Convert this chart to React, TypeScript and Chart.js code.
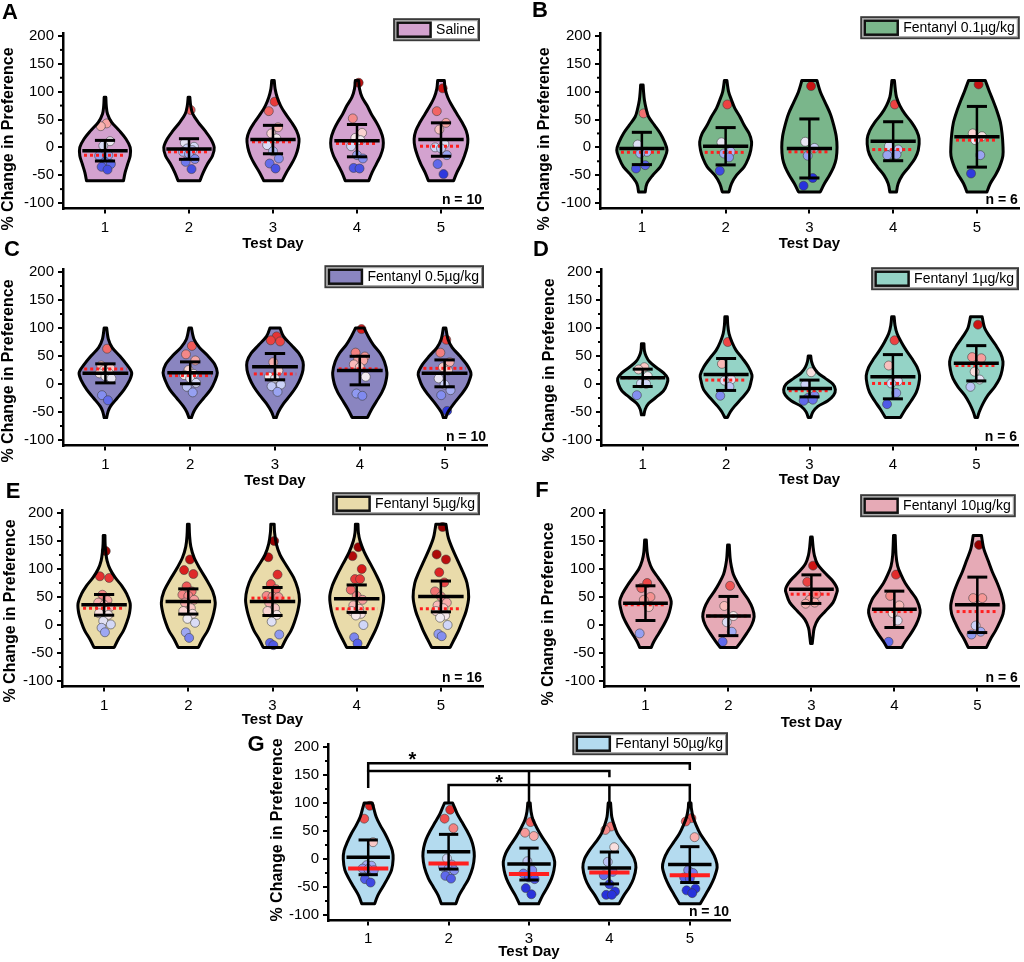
import React, { useEffect, useRef } from 'react';
import { Chart, registerables } from 'chart.js';
Chart.register(...registerables);

// ---------- shared labels ----------
const DAYS = [1, 2, 3, 4, 5];
const Y_TICKS = [-100, -50, 0, 50, 100, 150, 200];
const Y_MINOR = [-75, -25, 25, 75, 125, 175];
const X_TITLE = 'Test Day';
const Y_TITLE = '% Change in Preference';

// ---------- Panel A : Saline ----------
const PTS_A = [
  [43, 38, 11, 3, -14, -15, -26, -30, -35, -40],
  [67, 8, 1, -2, -5, -8, -12, -21, -26, -39],
  [82, 65, 36, 25, 16, 4, -7, -20, -29, -38],
  [116, 52, 26, 17, 13, 2, -14, -20, -37, -38],
  [106, 65, 44, 32, 6, 0, -2, -14, -30, -48],
];
const MEAN_A = [-6, -3, 14, 12, 14];
const SD_A = [18.5, 18.5, 25.5, 29, 30];
const MEDIAN_A = [-14, -8, 10, 7, 2];
const VIOLIN_A = [
  [[-60, .22], [-45, .24], [-30, .27], [-15, .30], [0, .30], [15, .25], [30, .17], [45, .08], [60, .03], [75, .015], [90, .01]],
  [[-60, .13], [-45, .17], [-30, .22], [-15, .28], [0, .30], [15, .26], [30, .19], [45, .11], [60, .045], [75, .02], [90, .01]],
  [[-60, .11], [-45, .16], [-30, .22], [-15, .27], [0, .30], [15, .31], [30, .28], [45, .22], [60, .15], [75, .09], [90, .05], [105, .025], [120, .015]],
  [[-60, .14], [-45, .18], [-30, .23], [-15, .28], [0, .31], [15, .31], [30, .28], [45, .23], [60, .17], [75, .12], [90, .06], [105, .03], [120, .02]],
  [[-60, .15], [-45, .19], [-30, .24], [-15, .28], [0, .31], [15, .32], [30, .30], [45, .25], [60, .19], [75, .13], [90, .08], [105, .05], [120, .04]],
];

// ---------- Panel B : Fentanyl 0.1 ----------
const PTS_B = [
  [61, 5, -8, -11, -32, -38],
  [77, 9, -8, -11, -18, -42],
  [110, 10, -1, -15, -55, -69],
  [77, 2, -4, -12, -13, -14],
  [113, 25, 20, 13, -14, -47],
];
const MEAN_B = [-2, 2, -2, 11, 19];
const SD_B = [29, 33.5, 53, 35, 54.5];
const MEDIAN_B = [-9, -9, -8, -4, 13];
const VIOLIN_B = [
  [[-80, .04], [-65, .06], [-50, .13], [-35, .22], [-20, .27], [-5, .30], [10, .27], [25, .22], [40, .15], [55, .08], [70, .05], [85, .03], [100, .02], [112, .015]],
  [[-80, .04], [-65, .07], [-50, .13], [-35, .22], [-20, .27], [-5, .30], [10, .31], [25, .28], [40, .22], [55, .17], [70, .11], [85, .07], [100, .035], [120, .015]],
  [[-80, .13], [-65, .18], [-50, .24], [-35, .29], [-20, .32], [0, .33], [20, .32], [40, .29], [60, .25], [80, .19], [100, .13], [120, .09]],
  [[-80, .04], [-65, .06], [-50, .11], [-35, .19], [-20, .26], [-5, .30], [15, .31], [30, .28], [45, .22], [60, .14], [75, .08], [90, .04], [105, .025], [120, .015]],
  [[-80, .12], [-65, .16], [-50, .22], [-35, .27], [-15, .31], [5, .31], [25, .30], [45, .28], [65, .24], [85, .19], [100, .15], [120, .10]],
];

// ---------- Panel C : Fentanyl 0.5 ----------
const PTS_C = [
  [63, 33, 28, 25, 20, 19, 14, 10, -20, -29],
  [68, 53, 42, 25, 18, 16, 10, 2, -5, -15],
  [85, 78, 76, 39, 24, 13, 10, -1, -4, -14],
  [98, 56, 49, 44, 42, 35, 30, 13, -17, -21],
  [79, 56, 39, 30, 24, 10, -1, -11, -20, -48],
];
const MEAN_C = [19, 20, 31, 24, 19];
const SD_C = [17, 19.5, 23.5, 25.5, 24];
const MEDIAN_C = [27, 15, 18, 27, 28];
const VIOLIN_C = [
  [[-60, .015], [-50, .03], [-40, .06], [-25, .14], [-10, .22], [5, .28], [20, .31], [35, .25], [50, .17], [65, .08], [80, .035], [100, .015]],
  [[-60, .015], [-50, .04], [-40, .08], [-25, .16], [-10, .24], [5, .29], [20, .32], [35, .29], [50, .21], [65, .11], [80, .045], [100, .015]],
  [[-60, .015], [-50, .04], [-35, .10], [-20, .18], [-5, .25], [10, .30], [25, .33], [40, .33], [55, .28], [70, .19], [85, .10], [100, .06]],
  [[-60, .09], [-45, .14], [-30, .20], [-15, .26], [0, .30], [20, .32], [40, .29], [55, .24], [70, .16], [85, .10], [100, .05]],
  [[-60, .015], [-50, .04], [-35, .11], [-20, .19], [-5, .26], [10, .30], [20, .31], [35, .26], [50, .18], [65, .09], [80, .04], [100, .015]],
];

// ---------- Panel D : Fentanyl 1 ----------
const PTS_D = [
  [30, 26, 14, 1, 0, -20],
  [75, 36, 8, 6, -5, -21],
  [21, -1, -21, -25, -28, -30],
  [78, 33, 5, 1, -16, -36],
  [106, 48, 46, 22, 8, -5],
];
const MEAN_D = [11, 17, -8, 13, 37];
const SD_D = [15.5, 28.5, 15, 39.5, 31.5];
const MEDIAN_D = [11, 7, -12, 1, 33];
const VIOLIN_D = [
  [[-55, .015], [-45, .03], [-35, .07], [-25, .15], [-12, .25], [0, .29], [10, .30], [20, .25], [30, .16], [40, .08], [50, .04], [60, .02], [72, .015]],
  [[-60, .015], [-50, .05], [-40, .10], [-25, .19], [-10, .27], [5, .30], [16, .31], [30, .27], [45, .20], [60, .12], [75, .07], [90, .035], [105, .02], [120, .015]],
  [[-60, .015], [-50, .04], [-40, .10], [-30, .22], [-20, .29], [-10, .31], [0, .28], [10, .19], [20, .10], [30, .05], [40, .025], [50, .015]],
  [[-60, .09], [-45, .15], [-30, .22], [-15, .28], [0, .31], [15, .32], [30, .29], [45, .23], [60, .16], [75, .10], [90, .05], [105, .025], [120, .015]],
  [[-60, .015], [-50, .035], [-35, .08], [-20, .14], [-5, .22], [10, .28], [25, .31], [40, .32], [55, .29], [70, .23], [85, .16], [100, .10], [120, .07]],
];

// ---------- Panel E : Fentanyl 5 ----------
const PTS_E = [
  [132, 87, 84, 54, 44, 40, 36, 32, 29, 25, 21, 18, 7, 1, -5, -13],
  [117, 98, 91, 69, 60, 54, 52, 45, 40, 30, 25, 20, 11, 4, -13, -23],
  [150, 121, 90, 73, 64, 52, 51, 50, 40, 30, 25, 18, 6, -17, -32, -36],
  [139, 123, 100, 82, 82, 63, 52, 45, 35, 29, 25, 20, 17, 0, -22, -33],
  [175, 126, 117, 94, 76, 60, 51, 40, 35, 30, 25, 17, 13, 0, -16, -20],
];
const MEAN_E = [36, 42, 42, 47, 51];
const SD_E = [18.5, 22.5, 25, 24.5, 27.5];
const MEDIAN_E = [30, 42, 48, 29, 29];
const VIOLIN_E = [
  [[-40, .12], [-25, .17], [-10, .23], [5, .27], [20, .30], [38, .31], [55, .27], [70, .21], [85, .13], [100, .07], [115, .035], [130, .02], [145, .012], [160, .01]],
  [[-40, .12], [-25, .17], [-10, .23], [5, .27], [20, .30], [40, .32], [60, .29], [80, .22], [100, .14], [120, .07], [140, .03], [160, .015], [180, .01]],
  [[-40, .11], [-25, .16], [-10, .22], [5, .26], [25, .30], [45, .32], [65, .30], [85, .25], [105, .17], [125, .09], [145, .045], [165, .025], [180, .02]],
  [[-40, .12], [-25, .17], [-10, .22], [5, .26], [25, .30], [50, .32], [70, .29], [90, .23], [110, .16], [130, .09], [150, .04], [165, .02], [180, .015]],
  [[-40, .11], [-25, .16], [-10, .21], [5, .25], [25, .30], [50, .33], [75, .31], [95, .26], [115, .20], [135, .14], [155, .09], [170, .07], [180, .06]],
];

// ---------- Panel F : Fentanyl 10 ----------
const PTS_F = [
  [75, 66, 50, 45, 32, -15],
  [70, 34, 16, 5, -12, -30],
  [106, 77, 55, 45, 40, 38],
  [90, 52, 35, 21, 8, -30],
  [143, 48, 48, -1, -12, -17],
];
const MEAN_F = [39, 16, 64, 28, 36];
const SD_F = [31, 35, 25.5, 32.5, 49.5];
const MEDIAN_F = [36, 16, 55, 24, 24];
const VIOLIN_F = [
  [[-40, .07], [-30, .10], [-15, .16], [0, .22], [15, .27], [30, .30], [42, .31], [55, .28], [70, .22], [85, .15], [100, .08], [115, .04], [130, .02], [152, .01]],
  [[-40, .10], [-30, .15], [-15, .22], [0, .28], [15, .31], [30, .29], [45, .24], [60, .17], [75, .11], [90, .06], [105, .035], [120, .02], [143, .01]],
  [[-33, .01], [-20, .02], [-5, .035], [10, .08], [25, .17], [40, .26], [55, .30], [65, .31], [80, .25], [95, .15], [110, .07], [125, .035], [140, .02], [157, .01]],
  [[-40, .09], [-30, .13], [-15, .20], [0, .26], [15, .30], [27, .31], [45, .27], [60, .20], [75, .13], [90, .08], [105, .04], [125, .02], [160, .01]],
  [[-40, .11], [-25, .16], [-10, .22], [5, .27], [20, .31], [35, .32], [55, .29], [75, .24], [95, .18], [115, .13], [135, .08], [150, .06], [160, .05]],
];

// ---------- Panel G : Fentanyl 50 ----------
const PTS_G = [
  [95, 72, 30, -11, -12, -17, -18, -20, -36, -42],
  [88, 72, 55, 1, -10, -14, -17, -20, -30, -35],
  [66, 47, 41, -4, -20, -26, -33, -36, -52, -63],
  [58, 52, 21, -5, -23, -29, -45, -58, -64, -64],
  [73, 67, 39, -20, -25, -33, -35, -53, -56, -61],
];
const MEAN_G = [3, 13, -9, -16, -10];
const SD_G = [31, 31, 28.5, 28.5, 32];
const MEDIAN_G = [-17, -8, -27, -24, -29];
const VIOLIN_G = [
  [[-80, .08], [-65, .12], [-50, .18], [-35, .24], [-20, .29], [0, .31], [15, .30], [30, .26], [45, .21], [60, .15], [75, .10], [90, .07], [100, .05]],
  [[-80, .09], [-65, .13], [-50, .19], [-35, .25], [-15, .30], [5, .32], [20, .31], [35, .28], [50, .23], [65, .17], [80, .11], [90, .08], [100, .05]],
  [[-80, .12], [-65, .17], [-50, .23], [-35, .28], [-20, .31], [-5, .32], [10, .29], [25, .23], [40, .16], [55, .10], [70, .05], [85, .025], [100, .015]],
  [[-80, .12], [-65, .18], [-50, .25], [-35, .30], [-15, .33], [0, .31], [15, .25], [30, .17], [45, .10], [60, .06], [75, .03], [90, .02], [100, .015]],
  [[-80, .13], [-65, .19], [-50, .25], [-35, .30], [-15, .34], [0, .32], [15, .27], [30, .20], [45, .13], [60, .08], [75, .04], [90, .02], [100, .015]],
];
// significance brackets (G): horizontal level, span, and vertical drops [day, lower end]
const BRACKET_LEVELS = [171, 157, 132];
const BRACKET_SPANS = [[1, 5], [1, 4], [2, 5]];
const BRACKET_DROPS = [
  [[1, 129], [5, 161]],
  [[4, 148], [3, 102]],
  [[2, 102], [4, 102], [5, 102]],
];
const STARS = [[1.55, 186], [2.63, 145]];

// ---------- styling ----------
const FONT = 'Liberation Sans, Arial, Helvetica, sans-serif';
const JITTER = [0.02, -0.05, 0.06, -0.02, 0.04, -0.07, 0.0, 0.07, -0.04, 0.03, -0.06, 0.05, -0.01, 0.08, -0.03, 0.01];
const COLOR_STOPS: [number, number[]][] = [
  [-50, [40, 50, 220]], [-30, [95, 105, 235]], [-15, [150, 160, 242]], [0, [208, 214, 248]],
  [15, [246, 238, 240]], [30, [250, 200, 198]], [50, [245, 145, 145]], [75, [238, 70, 70]],
  [100, [215, 25, 25]], [140, [150, 0, 0]],
];
function pointColor(v: number) {
  if (v <= COLOR_STOPS[0][0]) return `rgb(${COLOR_STOPS[0][1].join(',')})`;
  for (let i = 1; i < COLOR_STOPS.length; i++) {
    const [v1, c1] = COLOR_STOPS[i];
    if (v <= v1) {
      const [v0, c0] = COLOR_STOPS[i - 1];
      const t = (v - v0) / (v1 - v0);
      const c = c0.map((a, k) => Math.round(a + (c1[k] - a) * t));
      return `rgb(${c.join(',')})`;
    }
  }
  return `rgb(${COLOR_STOPS[COLOR_STOPS.length - 1][1].join(',')})`;
}

type Panel = {
  letter: string; label: string; n: number; fill: string;
  pts: number[][]; mean: number[]; sd: number[]; median: number[]; violin: number[][][];
  solidMedian?: boolean; brackets?: boolean;
  box: { left: number; top: number; w: number; h: number };
  pad: { left: number; right: number; top: number; bottom: number };
  yW: number; xH: number; tickPad: number;
  letterPos: [number, number];
  yTitlePos: [number, number];
  legend: { dx: number; dy: number };
};

const PANELS: Panel[] = [
  { letter: 'A', label: 'Saline', n: 10, fill: '#d3a2cf', pts: PTS_A, mean: MEAN_A, sd: SD_A, median: MEDIAN_A, violin: VIOLIN_A,
    box: { left: 0, top: 0, w: 512, h: 260 }, pad: { left: 0.6, right: 29, top: 33.2, bottom: 7 }, yW: 62.4, xH: 44.4, tickPad: 5,
    letterPos: [10, 13], yTitlePos: [9, 139], legend: { dx: 4, dy: 14 } },
  { letter: 'B', label: 'Fentanyl 0.1µg/kg', n: 6, fill: '#7ab68b', pts: PTS_B, mean: MEAN_B, sd: SD_B, median: MEDIAN_B, violin: VIOLIN_B,
    box: { left: 512, top: 0, w: 512, h: 260 }, pad: { left: 24.6, right: 5, top: 33.2, bottom: 7 }, yW: 63.4, xH: 44.4, tickPad: 5,
    letterPos: [28, 11], yTitlePos: [33, 139], legend: { dx: 0, dy: 16 } },
  { letter: 'C', label: 'Fentanyl 0.5µg/kg', n: 10, fill: '#8a85c0', pts: PTS_C, mean: MEAN_C, sd: SD_C, median: MEDIAN_C, violin: VIOLIN_C,
    box: { left: 0, top: 240, w: 512, h: 260 }, pad: { left: 0.6, right: 25, top: 29.2, bottom: 10 }, yW: 62.4, xH: 44.4, tickPad: 5,
    letterPos: [12, 10], yTitlePos: [9, 131], legend: { dx: 4, dy: 3 } },
  { letter: 'D', label: 'Fentanyl 1µg/kg', n: 6, fill: '#94d3c6', pts: PTS_D, mean: MEAN_D, sd: SD_D, median: MEDIAN_D, violin: VIOLIN_D,
    box: { left: 512, top: 240, w: 512, h: 260 }, pad: { left: 29.6, right: 6, top: 29.2, bottom: 11 }, yW: 59.4, xH: 43.4, tickPad: 5,
    letterPos: [29, 10], yTitlePos: [38, 130], legend: { dx: 0, dy: 1 } },
  { letter: 'E', label: 'Fentanyl 5µg/kg', n: 16, fill: '#e9dbaa', pts: PTS_E, mean: MEAN_E, sd: SD_E, median: MEDIAN_E, violin: VIOLIN_E,
    box: { left: 0, top: 480, w: 512, h: 260 }, pad: { left: 2.6, right: 29, top: 30.2, bottom: 11 }, yW: 59.4, xH: 42.4, tickPad: 5,
    letterPos: [13, 12], yTitlePos: [11, 131], legend: { dx: 4, dy: 17 } },
  { letter: 'F', label: 'Fentanyl 10µg/kg', n: 6, fill: '#e6aab6', pts: PTS_F, mean: MEAN_F, sd: SD_F, median: MEDIAN_F, violin: VIOLIN_F,
    box: { left: 512, top: 480, w: 512, h: 260 }, pad: { left: 28.6, right: 2, top: 30.2, bottom: 8 }, yW: 63.4, xH: 45.4, tickPad: 5,
    letterPos: [30, 11], yTitlePos: [37, 134], legend: { dx: 4, dy: 15 } },
  { letter: 'G', label: 'Fentanyl 50µg/kg', n: 10, fill: '#b4dbef', pts: PTS_G, mean: MEAN_G, sd: SD_G, median: MEDIAN_G, violin: VIOLIN_G,
    solidMedian: true, brackets: true,
    box: { left: 240, top: 715, w: 540, h: 247 }, pad: { left: 29.6, right: 50, top: 29.2, bottom: 1 }, yW: 58.4, xH: 40.4, tickPad: 4,
    letterPos: [16, 30], yTitlePos: [38, 115], legend: { dx: 3, dy: 11 } },
];

type P = { x: number; y: number };
function spline(ctx: CanvasRenderingContext2D, pts: P[]) {
  for (let i = 0; i < pts.length - 1; i++) {
    const p0 = pts[Math.max(i - 1, 0)], p1 = pts[i], p2 = pts[i + 1], p3 = pts[Math.min(i + 2, pts.length - 1)];
    ctx.bezierCurveTo(
      p1.x + (p2.x - p0.x) / 6, p1.y + (p2.y - p0.y) / 6,
      p2.x - (p3.x - p1.x) / 6, p2.y - (p3.y - p1.y) / 6,
      p2.x, p2.y);
  }
}

function violinPath(ctx: CanvasRenderingContext2D, xs: any, ys: any, day: number, prof: number[][]) {
  const right = prof.map(([v, w]) => ({ x: xs.getPixelForValue(day + w), y: ys.getPixelForValue(v) }));
  const left = prof.map(([v, w]) => ({ x: xs.getPixelForValue(day - w), y: ys.getPixelForValue(v) })).reverse();
  ctx.beginPath();
  ctx.moveTo(left[left.length - 1].x, left[left.length - 1].y);
  ctx.lineTo(right[0].x, right[0].y);
  spline(ctx, right);
  ctx.lineTo(left[0].x, left[0].y);
  spline(ctx, left);
  ctx.closePath();
}

function hLine(ctx: CanvasRenderingContext2D, xs: any, ys: any, d: number, hw: number, v: number) {
  const py = ys.getPixelForValue(v);
  ctx.beginPath();
  ctx.moveTo(xs.getPixelForValue(d - hw), py);
  ctx.lineTo(xs.getPixelForValue(d + hw), py);
  ctx.stroke();
}

function makePlugin(p: Panel) {
  return {
    id: 'panel' + p.letter,
    beforeDatasetsDraw(chart: any) {
      const { ctx, scales: { x, y } } = chart;
      ctx.save();
      p.violin.forEach((prof, i) => {
        violinPath(ctx, x, y, DAYS[i], prof);
        ctx.fillStyle = p.fill;
        ctx.fill();
      });
      ctx.restore();
    },
    afterDatasetsDraw(chart: any) {
      const { ctx, scales: { x, y } } = chart;
      ctx.save();
      // violin outlines
      p.violin.forEach((prof, i) => {
        violinPath(ctx, x, y, DAYS[i], prof);
        ctx.strokeStyle = '#000';
        ctx.lineWidth = 3;
        ctx.lineJoin = 'round';
        ctx.stroke();
      });
      DAYS.forEach((d, i) => {
        // median
        ctx.strokeStyle = '#ff1f1f';
        if (p.solidMedian) { ctx.setLineDash([]); ctx.lineWidth = 4; }
        else { ctx.setLineDash([3, 3]); ctx.lineWidth = 3; }
        hLine(ctx, x, y, d, 0.25, p.median[i]);
        ctx.setLineDash([]);
        ctx.strokeStyle = '#000';
        // whisker
        const px = x.getPixelForValue(d);
        ctx.lineWidth = 2.5;
        ctx.beginPath();
        ctx.moveTo(px, y.getPixelForValue(p.mean[i] - p.sd[i]));
        ctx.lineTo(px, y.getPixelForValue(p.mean[i] + p.sd[i]));
        ctx.stroke();
        // caps
        ctx.lineWidth = 3;
        hLine(ctx, x, y, d, 0.12, p.mean[i] - p.sd[i]);
        hLine(ctx, x, y, d, 0.12, p.mean[i] + p.sd[i]);
        // mean
        ctx.lineWidth = 3.5;
        hLine(ctx, x, y, d, 0.27, p.mean[i]);
      });
      if (p.brackets) {
        ctx.strokeStyle = '#000';
        ctx.lineWidth = 2.5;
        ctx.lineCap = 'square';
        BRACKET_LEVELS.forEach((lvl, k) => {
          const [a, b] = BRACKET_SPANS[k];
          ctx.beginPath();
          ctx.moveTo(x.getPixelForValue(a), y.getPixelForValue(lvl));
          ctx.lineTo(x.getPixelForValue(b), y.getPixelForValue(lvl));
          BRACKET_DROPS[k].forEach(([d, low]) => {
            ctx.moveTo(x.getPixelForValue(d), y.getPixelForValue(lvl));
            ctx.lineTo(x.getPixelForValue(d), y.getPixelForValue(low));
          });
          ctx.stroke();
        });
        ctx.fillStyle = '#000';
        ctx.font = `bold 20px ${FONT}`;
        ctx.textAlign = 'center';
        ctx.textBaseline = 'alphabetic';
        STARS.forEach(([sx, sy]) => {
          ctx.fillText('*', x.getPixelForValue(sx), y.getPixelForValue(sy) + 11);
        });
      }
      ctx.restore();
    },
    afterDraw(chart: any) {
      const { ctx, chartArea, scales: { y } } = chart;
      ctx.save();
      // minor ticks
      ctx.strokeStyle = '#000';
      ctx.lineWidth = 2;
      Y_MINOR.forEach((v) => {
        const py = y.getPixelForValue(v);
        ctx.beginPath();
        ctx.moveTo(chartArea.left - 3, py);
        ctx.lineTo(chartArea.left, py);
        ctx.stroke();
      });
      // y axis title
      ctx.fillStyle = '#000';
      ctx.save();
      ctx.translate(p.yTitlePos[0], p.yTitlePos[1]);
      ctx.rotate(-Math.PI / 2);
      ctx.font = `bold 16px ${FONT}`;
      ctx.textAlign = 'center';
      ctx.textBaseline = 'middle';
      ctx.fillText(Y_TITLE, 0, 0);
      ctx.restore();
      // panel letter
      ctx.font = `bold 22px ${FONT}`;
      ctx.textAlign = 'center';
      ctx.textBaseline = 'middle';
      ctx.fillText(p.letter, p.letterPos[0], p.letterPos[1]);
      // n label
      ctx.font = `bold 14px ${FONT}`;
      ctx.textAlign = 'right';
      ctx.fillText(`n = ${p.n}`, chartArea.right - 1, chartArea.bottom - 8);
      // legend
      ctx.font = `14px ${FONT}`;
      const tw = ctx.measureText(p.label).width;
      const w = 3 + 34 + 5 + tw + 4;
      const h = 21;
      const right = chartArea.right - p.legend.dx;
      const top = chartArea.top - p.legend.dy;
      const left = right - w;
      ctx.fillStyle = '#fff';
      ctx.fillRect(left, top, w, h);
      ctx.strokeStyle = '#3a3a3a';
      ctx.lineWidth = 2;
      ctx.strokeRect(left, top, w, h);
      ctx.strokeStyle = '#9a9a9a';
      ctx.lineWidth = 1;
      ctx.strokeRect(left + 1.5, top + 1.5, w - 3, h - 3);
      ctx.fillStyle = p.fill;
      ctx.fillRect(left + 3.5, top + 3.5, 33, h - 7);
      ctx.strokeStyle = '#111';
      ctx.lineWidth = 2.5;
      ctx.strokeRect(left + 3.5, top + 3.5, 33, h - 7);
      ctx.fillStyle = '#000';
      ctx.textAlign = 'left';
      ctx.textBaseline = 'middle';
      ctx.fillText(p.label, left + 3 + 34 + 5, top + h / 2 + 0.5);
      ctx.restore();
    },
  };
}

function PanelChart({ p }: { p: Panel }) {
  const ref = useRef<HTMLCanvasElement>(null);
  useEffect(() => {
    const canvas = ref.current;
    if (!canvas) return;
    const data: { x: number; y: number }[] = [];
    const colors: string[] = [];
    p.pts.forEach((arr, i) => {
      arr.forEach((v, j) => {
        data.push({ x: DAYS[i] + JITTER[j % JITTER.length], y: v });
        colors.push(pointColor(v));
      });
    });
    const tickFont = { family: FONT, size: 15 };
    const titleFont = { family: FONT, size: 15, weight: 'bold' as const };
    const chart = new Chart(canvas, {
      type: 'scatter',
      data: {
        datasets: [{
          data,
          pointRadius: 4.5,
          pointHoverRadius: 4.5,
          pointBackgroundColor: colors,
          pointBorderColor: 'rgba(60,60,60,0.8)',
          pointBorderWidth: 0.7,
        }],
      },
      options: {
        animation: false,
        responsive: false,
        events: [],
        layout: { padding: p.pad },
        plugins: { legend: { display: false }, tooltip: { enabled: false } },
        scales: {
          x: {
            type: 'linear', min: 0.5, max: 5.5,
            afterBuildTicks: (s: any) => { s.ticks = DAYS.map((v) => ({ value: v })); },
            afterFit: (s: any) => { s.height = p.xH; },
            grid: { display: true, drawOnChartArea: false, drawTicks: true, tickLength: 5, color: '#000', lineWidth: 2 },
            border: { display: true, color: '#000', width: 2.5 },
            ticks: { color: '#000', font: tickFont, padding: p.tickPad, maxRotation: 0, callback: (v: any) => String(v) },
            title: { display: true, text: X_TITLE, color: '#000', font: titleFont, padding: { top: 0, bottom: 0 } },
          },
          y: {
            type: 'linear', min: -110, max: 205,
            afterBuildTicks: (s: any) => { s.ticks = Y_TICKS.map((v) => ({ value: v })); },
            afterFit: (s: any) => { s.width = p.yW; },
            grid: { display: true, drawOnChartArea: false, drawTicks: true, tickLength: 5, color: '#000', lineWidth: 2 },
            border: { display: true, color: '#000', width: 2.5 },
            ticks: { color: '#000', font: tickFont, padding: 4, callback: (v: any) => String(v) },
            title: { display: false },
          },
        },
      },
      plugins: [makePlugin(p)],
    } as any);
    return () => chart.destroy();
  }, [p]);
  return (
    <canvas
      ref={ref}
      width={p.box.w}
      height={p.box.h}
      style={{ position: 'absolute', left: p.box.left, top: p.box.top, width: p.box.w, height: p.box.h }}
    />
  );
}

export default function App() {
  return (
    <div style={{ position: 'absolute', left: 0, top: 0, width: 1024, height: 962, background: '#fff', overflow: 'hidden' }}>
      {PANELS.map((p) => <PanelChart key={p.letter} p={p} />)}
    </div>
  );
}
